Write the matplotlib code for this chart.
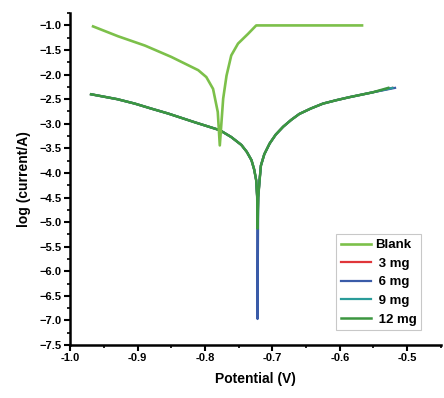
import matplotlib
matplotlib.use("Agg")
import matplotlib.pyplot as plt
from matplotlib.ticker import MultipleLocator

plt.rcParams['font.family'] = ['Liberation Sans', 'DejaVu Sans']

# ---- data ----
blank_v = [-0.966, -0.929, -0.889, -0.850, -0.810, -0.798, -0.788, -0.781, -0.778,
           -0.773, -0.768, -0.761, -0.751, -0.736, -0.724, -0.567]
blank_i = [-1.02, -1.22, -1.41, -1.64, -1.91, -2.05, -2.29, -2.76, -3.44,
           -2.49, -2.02, -1.61, -1.37, -1.17, -1.00, -1.00]

inh_v = [-0.969, -0.93, -0.904, -0.88, -0.855, -0.815, -0.778, -0.761, -0.746, -0.738,
         -0.731, -0.727, -0.724, -0.7225, -0.722, -0.721, -0.719, -0.717, -0.712, -0.704,
         -0.695, -0.684, -0.672, -0.660, -0.643, -0.625, -0.605, -0.586, -0.551, -0.522]
inh_base = [-2.40, -2.50, -2.59, -2.69, -2.79, -2.97, -3.13, -3.27, -3.43, -3.57,
            -3.74, -3.93, -4.15, -4.50, -4.90, -4.50, -4.15, -3.85, -3.62, -3.40,
            -3.22, -3.06, -2.92, -2.80, -2.69, -2.59, -2.52, -2.46, -2.36, -2.27]

mg3_i = inh_base[:14] + [-5.00] + inh_base[15:]
mg6_i = inh_base[:14] + [-6.97] + inh_base[15:]
mg9_i = inh_base[:14] + [-5.05] + inh_base[15:]
mg12_i = inh_base[:14] + [-5.13] + inh_base[15:]
mg6_v = inh_v[:-1] + [-0.518]
mg12_v = inh_v[:-1] + [-0.528]

labels = ['Blank', ' 3 mg', ' 6 mg', ' 9 mg', ' 12 mg']
colors = ['#7cc04a', '#e0363a', '#3a5ba8', '#2a9c9a', '#3c9640']

fig = plt.figure(figsize=(4.44, 3.98), dpi=100)
ax = fig.add_axes([0.158, 0.133, 0.835, 0.834])

ax.plot(blank_v, blank_i, color=colors[0], lw=1.9, label=labels[0], zorder=3)
ax.plot(inh_v, mg3_i, color=colors[1], lw=1.6, label=labels[1], zorder=2)
ax.plot(mg6_v, mg6_i, color=colors[2], lw=1.6, label=labels[2], zorder=2)
ax.plot(inh_v, mg9_i, color=colors[3], lw=1.6, label=labels[3], zorder=2)
ax.plot(mg12_v, mg12_i, color=colors[4], lw=1.8, label=labels[4], zorder=2.5)

ax.set_xlim(-1.0, -0.45)
ax.set_ylim(-7.5, -0.75)
ax.xaxis.set_minor_locator(MultipleLocator(0.05))
ax.yaxis.set_minor_locator(MultipleLocator(0.25))
ax.set_yticks([y / 2 for y in range(-15, -1)])
ax.set_xticks([-1.0, -0.9, -0.8, -0.7, -0.6, -0.5])
ax.set_xticklabels(['-1.0', '-0.9', '-0.8', '-0.7', '-0.6', '-0.5'])

for s in ['top', 'right']:
    ax.spines[s].set_visible(False)
for s in ['left', 'bottom']:
    ax.spines[s].set_linewidth(1.8)
ax.tick_params(which='major', direction='out', length=4, width=1.5, labelsize=8, pad=2)
ax.tick_params(which='minor', direction='out', length=2.5, width=1.2)
for t in ax.get_xticklabels() + ax.get_yticklabels():
    t.set_fontweight('bold')

ax.set_xlabel('Potential (V)', fontsize=10, fontweight='bold', labelpad=6)
ax.set_ylabel('log (current/A)', fontsize=10, fontweight='bold', labelpad=6)

leg = ax.legend(loc='lower right', bbox_to_anchor=(0.947, 0.045), frameon=True, fancybox=False,
                edgecolor='#bbbbbb', prop={'weight': 'bold', 'size': 9.5}, handlelength=2.3,
                handletextpad=0.3, labelspacing=0.48, borderpad=0.35, borderaxespad=0)
leg.get_frame().set_linewidth(0.8)

fig.savefig('out.png', dpi=100)
